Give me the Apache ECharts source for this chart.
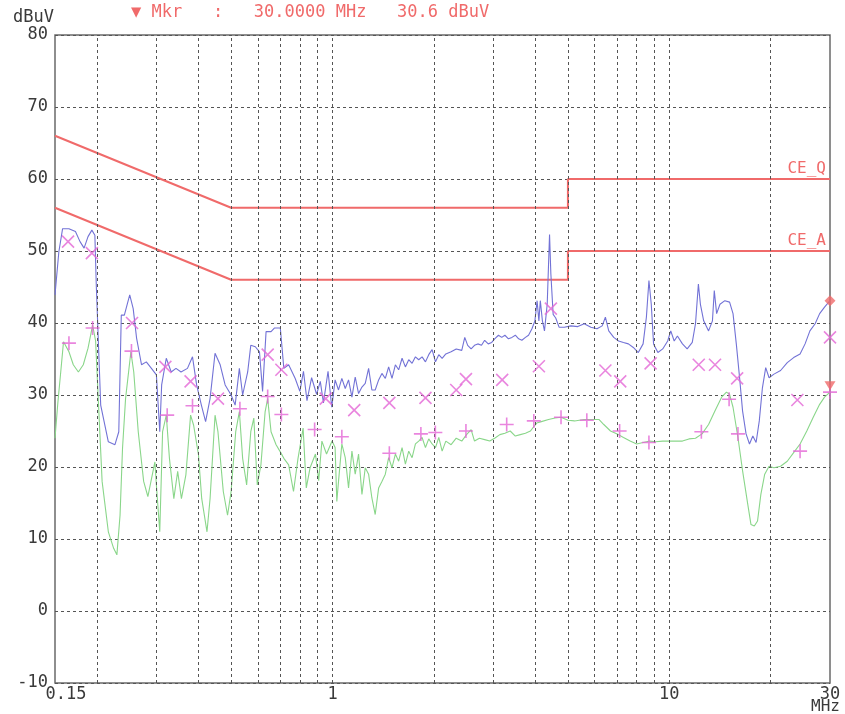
<!DOCTYPE html>
<html><head><meta charset="utf-8">
<script src="https://cdn.jsdelivr.net/npm/echarts@6/dist/echarts.min.js"></script>
<style>html,body{margin:0;padding:0;background:#fff}#c{width:845px;height:714px}</style>
</head><body><div id="c"></div>
<script>
// Peak detector trace (MHz, dBuV)
const peakFreq = [0.150,0.154,0.158,0.165,0.1725,0.178,0.183,0.188,0.193,0.197,0.199,0.205,0.216,0.226,0.232,0.236,0.241,0.250,0.256,0.262,0.271,0.280,0.290,0.300,0.307,0.311,0.321,0.332,0.343,0.355,0.371,0.384,0.395,0.408,0.420,0.433,0.448,0.464,0.480,0.500,0.514,0.529,0.541,0.560,0.572,0.590,0.607,0.620,0.635,0.657,0.672,0.700,0.717,0.741,0.775,0.800,0.820,0.840,0.867,0.897,0.920,0.940,0.970,0.995,1.018,1.042,1.066,1.091,1.116,1.142,1.168,1.195,1.223,1.251,1.280,1.309,1.339,1.371,1.402,1.435,1.468,1.502,1.537,1.572,1.609,1.646,1.684,1.723,1.763,1.803,1.845,1.888,1.931,1.976,2.022,2.068,2.116,2.17,2.25,2.33,2.42,2.47,2.52,2.58,2.64,2.70,2.77,2.83,2.90,2.97,3.03,3.11,3.18,3.25,3.33,3.41,3.49,3.57,3.65,3.74,3.82,3.91,3.99,4.05,4.10,4.14,4.20,4.26,4.34,4.41,4.45,4.52,4.60,4.71,4.88,5.10,5.35,5.59,5.85,6.10,6.32,6.46,6.61,6.84,7.07,7.31,7.56,7.82,8.09,8.36,8.55,8.70,8.84,8.98,9.25,9.56,9.89,10.1,10.34,10.57,10.94,11.3,11.7,11.96,12.2,12.37,12.65,13.08,13.43,13.6,13.82,14.14,14.62,15.1,15.46,15.81,16.17,16.5,16.9,17.3,17.7,18.1,18.5,18.9,19.33,19.78,20.45,21.4,22.4,23.4,24.45,25.3,26.15,27.1,27.95,28.9,30.0];
const peakLevel = [43.9,49.9,53.1,53.1,52.7,51.3,50.4,52.0,52.9,52.2,45.0,28.6,23.5,23.1,24.9,41.1,41.1,43.9,42.0,37.9,34.2,34.6,33.7,32.8,24.9,31.4,35.1,33.2,33.7,33.2,33.7,35.3,31.4,28.6,26.3,29.5,35.8,34.2,31.4,30.0,28.6,33.7,30.0,33.2,36.9,36.7,36.0,30.5,38.8,38.8,39.3,39.3,33.7,34.2,32.3,30.5,33.3,29.2,32.4,30.1,31.9,28.9,33.3,28.3,32.1,30.7,32.3,30.9,32.1,29.7,32.5,30.2,31.1,31.6,33.7,30.7,30.7,32.1,33.0,32.3,33.9,32.3,34.2,33.5,35.1,33.9,34.9,34.4,35.3,34.9,35.3,34.6,35.6,36.3,34.6,35.6,35.1,35.7,36.0,36.4,36.2,38.0,36.9,36.4,36.9,37.1,36.9,37.6,37.1,37.3,37.8,38.3,38.0,38.3,37.8,38.0,38.3,37.8,37.6,38.0,38.3,39.2,40.3,43.1,40.3,43.1,40.3,38.9,42.6,52.3,46.8,41.2,40.7,39.4,39.4,39.6,39.5,39.9,39.4,39.2,39.6,40.8,38.9,38.0,37.5,37.3,37.1,36.6,35.9,37.1,40.8,45.9,42.6,37.1,35.9,36.4,37.5,38.9,37.5,38.2,37.1,36.4,37.3,39.9,45.4,42.6,40.3,38.9,40.3,44.5,41.3,42.6,43.1,42.9,41.3,37.1,32.4,27.8,24.6,23.2,24.3,23.4,26.4,31.0,33.8,32.4,32.9,33.4,34.5,35.2,35.7,37.1,38.9,39.9,41.3,42.2,43.1];

// Average detector trace (MHz, dBuV)
const avgFreq = [0.150,0.153,0.156,0.159,0.165,0.170,0.176,0.182,0.188,0.194,0.198,0.202,0.207,0.216,0.224,0.229,0.234,0.238,0.243,0.252,0.257,0.265,0.275,0.283,0.297,0.300,0.307,0.313,0.321,0.328,0.338,0.347,0.356,0.367,0.379,0.387,0.400,0.409,0.424,0.433,0.448,0.457,0.474,0.488,0.500,0.516,0.529,0.541,0.556,0.572,0.584,0.598,0.613,0.631,0.642,0.657,0.680,0.700,0.717,0.741,0.766,0.790,0.818,0.836,0.858,0.890,0.910,0.930,0.960,0.997,1.018,1.030,1.042,1.066,1.091,1.116,1.142,1.168,1.195,1.223,1.251,1.280,1.309,1.339,1.371,1.402,1.435,1.468,1.502,1.537,1.572,1.609,1.646,1.684,1.723,1.763,1.803,1.845,1.888,1.931,1.976,2.022,2.068,2.116,2.17,2.25,2.33,2.42,2.50,2.58,2.64,2.73,2.83,2.93,3.03,3.14,3.25,3.37,3.49,3.61,3.74,3.87,3.96,4.04,4.17,4.38,4.58,4.77,5.00,5.23,5.59,5.98,6.18,6.39,6.69,7.00,7.31,7.65,8.00,8.36,8.75,9.10,9.56,10.0,10.46,10.94,11.44,11.96,12.51,13.08,13.67,14.3,14.78,15.1,15.46,15.99,16.5,17.1,17.48,17.88,18.28,18.7,19.2,19.78,20.45,21.4,22.4,23.4,24.45,25.6,26.75,27.95,28.9,30.0];
const avgLevel = [24.0,29.0,33.2,37.4,36.0,34.2,33.2,34.2,36.5,39.7,37.5,28.6,18.0,11.0,8.7,7.8,13.3,22.6,29.5,36.0,33.2,24.9,18.0,15.9,20.7,17.5,11.0,24.9,27.2,21.2,15.6,19.4,15.6,18.9,27.2,25.8,21.7,15.6,11.0,15.6,27.2,24.9,16.6,13.3,16.6,24.9,27.7,21.2,17.5,24.9,26.8,17.5,20.3,27.7,29.5,24.9,23.1,22.1,21.2,20.3,16.6,21.2,25.4,17.1,19.9,21.8,18.1,23.6,21.8,23.6,22.7,15.2,18.0,23.2,21.3,17.1,22.2,19.0,21.8,16.2,19.9,19.0,15.7,13.4,17.1,18.0,19.0,21.3,19.9,21.8,20.8,22.7,20.4,22.2,21.3,23.2,23.6,24.1,22.7,23.9,23.2,22.7,24.1,22.2,23.6,23.1,24.0,23.6,24.5,25.2,23.6,24.0,23.8,23.6,24.0,24.5,24.7,25.0,24.3,24.5,24.7,25.0,25.6,26.1,26.3,26.6,26.8,26.9,26.5,26.4,26.6,26.6,26.6,25.9,25.0,24.6,24.1,23.6,23.2,23.4,23.6,23.5,23.6,23.6,23.6,23.6,23.9,24.0,24.6,25.9,27.8,29.7,30.4,30.1,28.3,24.1,19.5,14.8,12.0,11.8,12.5,16.2,19.0,20.1,19.9,20.1,20.8,22.0,23.2,25.0,26.9,28.7,29.7,30.4];

// Final quasi-peak measurements (x) and average measurements (+)
const qpFreq = [0.164,0.193,0.254,0.319,0.379,0.457,0.642,0.705,0.955,1.16,1.475,1.888,2.33,2.49,3.19,4.1,4.45,6.46,7.15,8.8,12.23,13.67,15.9,24.0,30.0];
const qpLevel = [51.3,49.7,40.0,33.9,31.9,29.5,35.6,33.5,29.5,27.9,28.9,29.6,30.7,32.2,32.1,34.0,42.0,33.4,31.9,34.4,34.2,34.2,32.3,29.3,38.0];
const avFreq = [0.165,0.194,0.253,0.323,0.384,0.531,0.642,0.705,0.885,1.066,1.475,1.83,2.02,2.49,3.29,3.96,4.77,5.69,7.12,8.7,12.45,15.05,15.99,24.45,30.0];
const avLevel = [37.2,39.3,36.1,27.2,28.5,28.1,29.8,27.3,25.2,24.2,21.9,24.6,24.8,25.0,25.9,26.4,26.9,26.5,25.0,23.4,24.9,29.4,24.6,22.2,30.4];

// Limit lines
const limitFreq = [0.15, 0.5, 5, 5, 30];
const limitQpLevel = [66, 56, 56, 60, 60];
const limitAvLevel = [56, 46, 46, 50, 50];
const limitNames = ['CE_Q', 'CE_A'];

// Axes
const xMin = 0.15, xMax = 30;
const yMin = -10, yMax = 80, yStep = 10;
const gridFreqs = [0.2,0.3,0.4,0.5,0.6,0.7,0.8,0.9,1,2,3,4,5,6,7,8,9,10,20];

// Marker
const markerFreq = 30.0;
const markerLevel = 30.6;

const RED = '#f06a6a', BLUE = '#7272d6', GREEN = '#8ad68a', MAG = '#e466d6', INK = '#3a3a3a';
const MONO = '"DejaVu Sans Mono", "Liberation Mono", monospace';
const zip = (xs, ys) => xs.map((x, i) => [x, ys[i]]);

const chart = echarts.init(document.getElementById('c'), null, {renderer: 'canvas'});
chart.setOption({
  animation: false,
  backgroundColor: '#fff',
  title: {
    text: '▼ Mkr   :   ' + markerFreq.toFixed(4) + ' MHz   ' + markerLevel.toFixed(1) + ' dBuV',
    left: 131, top: 4, padding: 0,
    textStyle: {color: RED, fontFamily: MONO, fontSize: 17, fontWeight: 'normal'}
  },
  graphic: [{
    type: 'text', right: 5, top: 699, silent: true,
    style: {text: 'MHz', fill: INK, font: '16px ' + MONO}
  }],
  grid: {left: 55, right: 15, top: 35, bottom: 31, show: true, borderColor: '#6a6a6a', borderWidth: 1.5, backgroundColor: 'transparent'},
  xAxis: {
    type: 'log', logBase: 10, min: xMin, max: xMax,
    axisLine: {show: false}, axisTick: {show: false}, splitLine: {show: false},
    axisLabel: {show: true, color: INK, fontFamily: MONO, fontSize: 17, margin: 3,
      showMinLabel: true, showMaxLabel: true, alignMinLabel: 'center', alignMaxLabel: 'center',
      formatter: (v, i) => {
        const s = String(Math.round(v * 100) / 100);
        return i === 0 ? '{min|' + s + '}' : s;
      },
      rich: {min: {padding: [0, 0, 0, 22], color: INK, fontFamily: MONO, fontSize: 17}}
    }
  },
  yAxis: {
    type: 'value', min: yMin, max: yMax, interval: yStep,
    axisLine: {show: false}, axisTick: {show: false},
    splitLine: {show: true, lineStyle: {type: [3, 3], color: '#555', width: 1}},
    axisLabel: {color: INK, fontFamily: MONO, fontSize: 17, margin: 7},
    name: 'dBuV', nameLocation: 'end', nameGap: 9,
    nameTextStyle: {color: INK, fontFamily: MONO, fontSize: 17, align: 'right', verticalAlign: 'bottom', padding: [0, 1, 0, 0]}
  },
  series: [
    {
      name: 'grid', type: 'line', data: [], z: 1, silent: true,
      markLine: {silent: true, symbol: ['none', 'none'], label: {show: false}, animation: false,
        lineStyle: {type: [3, 3], color: '#555', width: 1},
        data: gridFreqs.map(f => ({xAxis: f}))}
    },
    {
      name: limitNames[0], type: 'line', data: zip(limitFreq, limitQpLevel), z: 3,
      showSymbol: false, lineStyle: {color: RED, width: 2}, itemStyle: {color: RED},
      endLabel: {show: true, formatter: limitNames[0], color: RED, fontFamily: MONO, fontSize: 16,
        align: 'right', verticalAlign: 'bottom', offset: [-12, -2]}
    },
    {
      name: limitNames[1], type: 'line', data: zip(limitFreq, limitAvLevel), z: 3,
      showSymbol: false, lineStyle: {color: RED, width: 2}, itemStyle: {color: RED},
      endLabel: {show: true, formatter: limitNames[1], color: RED, fontFamily: MONO, fontSize: 16,
        align: 'right', verticalAlign: 'bottom', offset: [-12, -2]}
    },
    {
      name: 'Peak', type: 'line', data: zip(peakFreq, peakLevel), z: 4,
      showSymbol: false, lineStyle: {color: BLUE, width: 1.1}, itemStyle: {color: BLUE}
    },
    {
      name: 'Average', type: 'line', data: zip(avgFreq, avgLevel), z: 4,
      showSymbol: false, lineStyle: {color: GREEN, width: 1.1}, itemStyle: {color: GREEN}
    },
    {
      name: 'QP', type: 'scatter', data: zip(qpFreq, qpLevel), z: 5,
      symbol: 'path://M0,0L10,10M0,10L10,0', symbolSize: 12,
      itemStyle: {color: 'transparent', borderColor: MAG, borderWidth: 1.6}
    },
    {
      name: 'AV', type: 'scatter', data: zip(avFreq, avLevel), z: 5,
      symbol: 'path://M5,0L5,10M0,5L10,5', symbolSize: 14,
      itemStyle: {color: 'transparent', borderColor: MAG, borderWidth: 1.6}
    },
    {
      name: 'Markers', type: 'scatter', z: 6,
      data: [
        {value: [peakFreq[peakFreq.length - 1], peakLevel[peakLevel.length - 1]], symbol: 'diamond', symbolSize: 11},
        {value: [markerFreq, markerLevel], symbol: 'triangle', symbolRotate: 180, symbolSize: [11, 9], symbolOffset: [0, -5]}
      ],
      itemStyle: {color: RED}
    }
  ]
});
</script></body></html>
